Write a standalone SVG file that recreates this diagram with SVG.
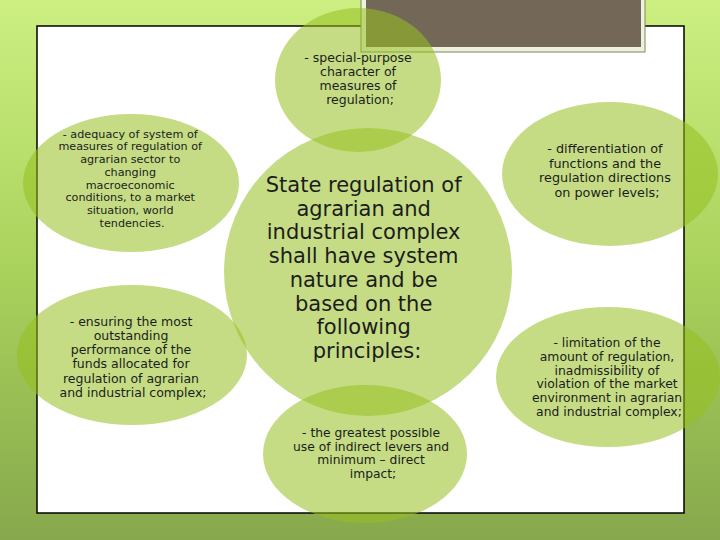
<svg xmlns="http://www.w3.org/2000/svg" width="720" height="540" viewBox="0 0 720 540">
<defs>
<linearGradient id="bg" x1="0" y1="0" x2="0" y2="1">
<stop offset="0" stop-color="#cdef82"/>
<stop offset="0.5" stop-color="#a9d25c"/>
<stop offset="1" stop-color="#87a84c"/>
</linearGradient>
<style>
.node{fill:#96bf1f;fill-opacity:0.55;}
.t{font-family:"DejaVu Sans",sans-serif;fill:#1c1c1c;text-anchor:middle;}
</style>
</defs>
<rect x="0" y="0" width="720" height="540" fill="url(#bg)"/>
<rect x="37" y="26" width="647" height="487" fill="#ffffff" stroke="#000000" stroke-width="1.5"/>
<g id="title-box">
<rect x="361" y="-2" width="284" height="54" fill="#eef1e2" stroke="#7c8a4a" stroke-width="1"/>
<rect x="366" y="0" width="275" height="47" fill="#736858"/>
</g>
<g id="connectors"/>
<g id="center">
<circle class="node" cx="368" cy="272" r="144"/>
<text class="t" font-size="21">
<tspan x="367" y="192">State regulation of</tspan>
<tspan x="367" y="215.7">agrarian and</tspan>
<tspan x="367" y="239.4">industrial complex</tspan>
<tspan x="367" y="263.1">shall have system</tspan>
<tspan x="367" y="286.8">nature and be</tspan>
<tspan x="367" y="310.5">based on the</tspan>
<tspan x="367" y="334.2">following</tspan>
<tspan x="367" y="357.9">principles:</tspan>
</text>
</g>
<g id="top">
<ellipse class="node" cx="358" cy="80" rx="83" ry="72"/>
<text class="t" font-size="12.5">
<tspan x="360" y="62">-  special-purpose</tspan>
<tspan x="360" y="76">character of</tspan>
<tspan x="360" y="90">measures of</tspan>
<tspan x="360" y="104">regulation;</tspan>
</text>
</g>
<g id="left-top">
<ellipse class="node" cx="131" cy="183" rx="108" ry="69"/>
<text class="t" font-size="11.2">
<tspan x="132" y="137.7">- adequacy of system of</tspan>
<tspan x="132" y="150.4">measures of regulation of</tspan>
<tspan x="132" y="163.1">agrarian sector to</tspan>
<tspan x="132" y="175.8">changing</tspan>
<tspan x="132" y="188.5">macroeconomic</tspan>
<tspan x="132" y="201.2">conditions, to a market</tspan>
<tspan x="132" y="213.9">situation, world</tspan>
<tspan x="132" y="226.6">tendencies.</tspan>
</text>
</g>
<g id="left-bottom">
<ellipse class="node" cx="132" cy="355" rx="115" ry="70"/>
<text class="t" font-size="12.5">
<tspan x="133" y="325.7">-  ensuring the most</tspan>
<tspan x="133" y="339.9">outstanding</tspan>
<tspan x="133" y="354.1">performance of the</tspan>
<tspan x="133" y="368.3">funds allocated for</tspan>
<tspan x="133" y="382.5">regulation of agrarian</tspan>
<tspan x="133" y="396.7">and industrial complex;</tspan>
</text>
</g>
<g id="right-top">
<ellipse class="node" cx="610" cy="174" rx="108" ry="72"/>
<text class="t" font-size="12.8">
<tspan x="607" y="153">-  differentiation of</tspan>
<tspan x="607" y="167.5">functions and the</tspan>
<tspan x="607" y="182">regulation directions</tspan>
<tspan x="607" y="196.5">on power levels;</tspan>
</text>
</g>
<g id="right-bottom">
<ellipse class="node" cx="608" cy="377" rx="112" ry="70"/>
<text class="t" font-size="12.4">
<tspan x="609" y="347">-  limitation of the</tspan>
<tspan x="609" y="360.8">amount of regulation,</tspan>
<tspan x="609" y="374.6">inadmissibility of</tspan>
<tspan x="609" y="388.4">violation of the market</tspan>
<tspan x="609" y="402.2">environment in agrarian</tspan>
<tspan x="609" y="416">and industrial complex;</tspan>
</text>
</g>
<g id="bottom">
<ellipse class="node" cx="365" cy="454" rx="102" ry="69"/>
<text class="t" font-size="12.3">
<tspan x="373" y="436.7">-  the greatest possible</tspan>
<tspan x="373" y="450.5">use of indirect levers and</tspan>
<tspan x="373" y="464.3">minimum – direct</tspan>
<tspan x="373" y="478">impact;</tspan>
</text>
</g>
</svg>
